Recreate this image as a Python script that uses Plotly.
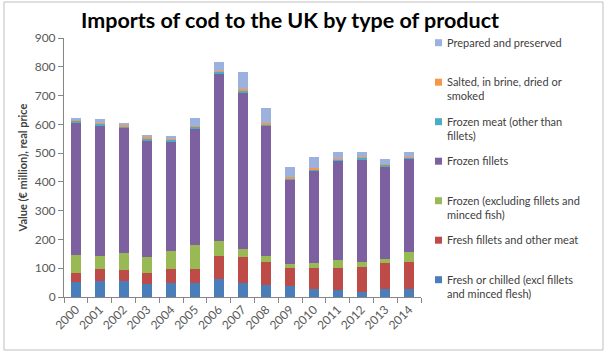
import plotly.graph_objects as go

years = [str(y) for y in range(2000, 2015)]

fresh_chilled = [51, 57, 54, 44, 47, 50, 64, 50, 41, 39, 29, 24, 19, 28, 27]
fresh_fillets = [34, 39, 40, 41, 51, 48, 79, 90, 81, 62, 73, 78, 85, 90, 95]
frozen_excl = [60, 47, 58, 55, 62, 83, 51, 27, 21, 14, 15, 25, 16, 15, 34]
frozen_fillets = [459, 451, 434, 403, 378, 405, 584, 543, 454, 294, 321, 346, 359, 322, 325]
frozen_meat = [8, 8, 8, 9, 8, 5, 6, 6, 2, 2, 5, 5, 5, 5, 5]
salted = [3, 3, 3, 3, 3, 3, 3, 6, 4, 5, 4, 3, 2, 2, 2]
prepared = [8, 13, 7, 7, 9, 27, 29, 59, 55, 37, 39, 24, 19, 17, 17]

series_names = [
    "Fresh or chilled (excl fillets<br>and minced flesh)",
    "Fresh fillets and other meat",
    "Frozen (excluding fillets and<br>minced fish)",
    "Frozen fillets",
    "Frozen meat (other than<br>fillets)",
    "Salted, in brine, dried or<br>smoked",
    "Prepared and preserved",
]
series_values = [fresh_chilled, fresh_fillets, frozen_excl, frozen_fillets,
                 frozen_meat, salted, prepared]
colors = ["#4A7EBB", "#BE4B48", "#98B954", "#7D60A0", "#4BACC6", "#F79646", "#9CB1DD"]

W, H = 607, 358
L, R, T, B = 64, 421, 38, 297


def px2x(px):
    return (px - L) / (R - L)


def py2y(py):
    return (B - py) / (B - T)


fig = go.Figure()
for name, vals, col in zip(series_names, series_values, colors):
    fig.add_trace(go.Bar(x=years, y=vals, name=name.replace("<br>", " "),
                         marker=dict(color=col, line=dict(width=0)),
                         showlegend=False))

font_family = "Lato, 'Open Sans', sans-serif"

# custom legend (top to bottom: reverse stacking order)
shapes = []
annotations = []
for i, (name, col) in enumerate(zip(series_names[::-1], colors[::-1])):
    cy = 42.7 + i * 39.5
    shapes.append(dict(type="rect", xref="paper", yref="paper",
                       x0=px2x(435), x1=px2x(442), y0=py2y(cy - 3.5), y1=py2y(cy + 3.5),
                       fillcolor=col, line=dict(width=0)))
    annotations.append(dict(xref="paper", yref="paper", x=px2x(445), y=py2y(cy - 9),
                            xanchor="left", yanchor="top", align="left", showarrow=False,
                            text=name, font=dict(family=font_family, size=11, color="#404040")))

# outer border
shapes.append(dict(type="rect", xref="paper", yref="paper",
                   x0=px2x(4), x1=px2x(603), y0=py2y(350), y1=py2y(2),
                   line=dict(color="#BFBFBF", width=1), fillcolor="rgba(0,0,0,0)", layer="below"))

fig.update_layout(
    barmode="stack",
    bargap=0.58,
    width=W, height=H,
    margin=dict(l=L, r=W - R, t=T, b=H - B),
    paper_bgcolor="white",
    plot_bgcolor="white",
    title=dict(text="<b>Imports of cod to the UK by type of product</b>",
               x=290 / W, xanchor="center",
               y=1 - 20 / H, yanchor="middle",
               font=dict(family=font_family, size=21.5, color="#000000")),
    xaxis=dict(type="category", tickangle=-45, ticks="outside", ticklen=5,
               tickson="boundaries", tickcolor="#868686",
               showline=True, linecolor="#868686", linewidth=1,
               tickfont=dict(family=font_family, size=12, color="#595959"),
               showgrid=False),
    yaxis=dict(range=[0, 900], dtick=100, ticks="outside", ticklen=5,
               tickcolor="#868686", showline=True, linecolor="#868686", linewidth=1,
               showgrid=False, zeroline=False,
               tickfont=dict(family=font_family, size=12, color="#595959"),
               title=dict(text="<b>Value (€ million), real price</b>", standoff=4,
                          font=dict(family=font_family, size=11, color="#404040"))),
    shapes=shapes,
    annotations=annotations,
    showlegend=False,
)

fig.write_html("out.html", config={"displayModeBar": False},
               post_script="document.body.style.margin='0';")
